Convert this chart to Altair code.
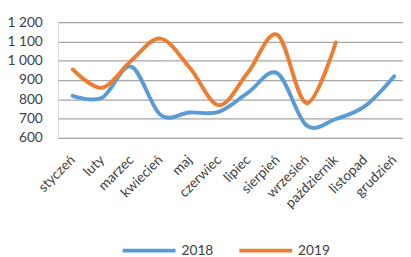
import altair as alt
import pandas as pd

months = ["styczeń", "luty", "marzec", "kwiecień", "maj", "czerwiec",
          "lipiec", "sierpień", "wrzesień", "październik", "listopad", "grudzień"]
v2018 = [818, 808, 970, 720, 732, 735, 835, 935, 665, 698, 765, 920]
v2019 = [955, 860, 1000, 1115, 965, 770, 940, 1135, 780, 1095]
series = ["2018", "2019"]
colors = ["#5B9BD5", "#ED7D31"]
y_ticks = [600, 700, 800, 900, 1000, 1100, 1200]

rows = []
for i, v in enumerate(v2018):
    rows.append({"i": i, "miesiac": months[i], "rok": series[0], "v": v})
for i, v in enumerate(v2019):
    rows.append({"i": i, "miesiac": months[i], "rok": series[1], "v": v})
df = pd.DataFrame(rows)

month_js = "[" + ",".join("'" + m + "'" for m in months) + "]"
FONT = "Lato"

chart = alt.Chart(df).mark_line(
    interpolate="cardinal", strokeWidth=4, strokeCap="round", strokeJoin="round"
).encode(
    x=alt.X("i:Q", scale=alt.Scale(domain=[-0.503, 11.30], nice=False, zero=False),
            axis=alt.Axis(values=list(range(12)), labelExpr=month_js + "[datum.value]",
                          labelAngle=315, labelAlign="right", labelBaseline="middle",
                          labelPadding=20, ticks=False, domain=False, grid=False,
                          title=None, labelFont=FONT, labelFontSize=14,
                          labelColor="#404040", labelOverlap=False)),
    y=alt.Y("v:Q", scale=alt.Scale(domain=[600, 1200], nice=False, zero=False),
            axis=alt.Axis(values=y_ticks,
                          labelExpr="replace(format(datum.value, ','), ',', ' ')",
                          ticks=False, domain=False, grid=True, gridColor="#A6A6A6",
                          gridWidth=1.3, labelPadding=16, title=None, labelFont=FONT,
                          labelFontSize=14, labelColor="#404040")),
    color=alt.Color("rok:N", scale=alt.Scale(domain=series, range=colors),
                    legend=alt.Legend(title=None, orient="none", direction="horizontal",
                                      legendX=64, legendY=204, symbolType="stroke",
                                      symbolSize=2916, symbolStrokeWidth=4,
                                      labelFont=FONT, labelFontSize=14,
                                      labelColor="#404040", labelOffset=4,
                                      columnPadding=18, padding=0)),
    order=alt.Order("rok:N"),
).properties(
    width=352, height=118,
    autosize=alt.AutoSizeParams(type="none"),
    padding={"left": 51, "top": 12, "right": 0, "bottom": 119},
).configure_view(stroke=None).configure(background="white")

chart.save("out.html", embed_options={"renderer": "svg", "actions": False})
